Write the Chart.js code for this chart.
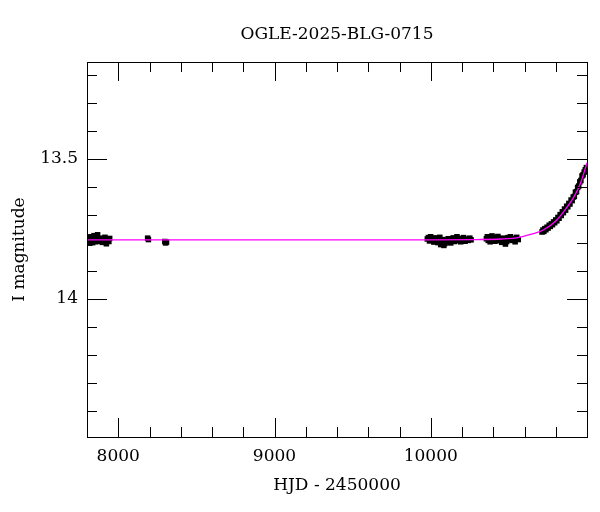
<!DOCTYPE html>
<html>
<head>
<meta charset="utf-8">
<script src="https://cdn.jsdelivr.net/npm/chart.js@4"></script>
<style>
html,body{margin:0;padding:0;background:#fff;}
#wrap{width:600px;height:512px;}
</style>
</head>
<body>
<div id="wrap"><canvas id="c" width="600" height="512"></canvas></div>
<script>
// ---- data ----
const titleText = "OGLE-2025-BLG-0715";
const xTitle = "HJD - 2450000";
const yTitle = "I magnitude";
const xLabelTicks = [8000, 9000, 10000];
const yLabelTicks = [13.5, 14];

const obsHJD = [
  7803,7806,7809,7812,7815,7818,7821,7825,7828,7832,7836,7840,7845,7850,7856,7862,7868,7875,7882,7890,7898,7906,7915,7924,7933,7940,7945,
  8188,8193,
  8298,8303,8309,
  9978,9985,9992,9999,10006,10013,10020,10027,10034,10040,10046,10052,10058,10064,10070,10077,10084,10091,10098,10105,10112,10120,10128,10136,10144,10152,10160,10168,10176,10184,10192,10200,10210,10220,10230,10240,10250,10258,
  10356,10362,10368,10374,10380,10386,10392,10398,10404,10410,10416,10422,10430,10438,10446,10454,10462,10470,10478,10486,10494,10502,10510,10520,10530,10540,10550,10560,
  10712,10718,10724,10730,10737,10744,10751,10758,10765,10772,10779,10786,10793,10800,10807,10814,10821,10828,10835,10842,10849,10856,10863,10870,10877,10884,10891,10898,10905,10912,10919,10926,10933,10940,10947,10954,10961,10968,10975,10982,10989,10996
];
const obsMag = [
  13.792,13.785,13.798,13.781,13.790,13.802,13.787,13.779,13.794,13.788,13.800,13.783,13.775,13.791,13.797,13.786,13.772,13.789,13.795,13.784,13.799,13.790,13.781,13.804,13.788,13.796,13.785,
  13.784,13.789,
  13.796,13.801,13.798,
  13.787,13.782,13.794,13.779,13.790,13.785,13.798,13.783,13.792,13.788,13.800,13.795,13.781,13.807,13.796,13.789,13.810,13.803,13.791,13.798,13.786,13.794,13.801,13.790,13.783,13.796,13.788,13.779,13.793,13.785,13.797,13.790,13.782,13.795,13.787,13.792,13.784,13.790,
  13.786,13.779,13.792,13.783,13.797,13.788,13.776,13.790,13.784,13.795,13.781,13.789,13.778,13.793,13.786,13.799,13.784,13.790,13.805,13.796,13.782,13.788,13.779,13.792,13.785,13.797,13.781,13.789,
  13.762,13.755,13.760,13.750,13.754,13.745,13.748,13.738,13.742,13.733,13.736,13.726,13.729,13.719,13.722,13.710,13.713,13.700,13.703,13.690,13.693,13.680,13.684,13.670,13.672,13.660,13.662,13.648,13.650,13.637,13.635,13.620,13.618,13.603,13.598,13.583,13.578,13.562,13.558,13.548,13.540,13.532
];
const modelHJD = [7800, 9000, 10000, 10300, 10450, 10550, 10650, 10720, 10800, 10870, 10920, 10960, 11000];
const modelMag = [13.790, 13.790, 13.790, 13.789, 13.787, 13.783, 13.769, 13.755, 13.723, 13.675, 13.633, 13.585, 13.515];

const FONT = "'DejaVu Serif', serif";

const obsPts = obsHJD.map((x, i) => ({x: x, y: obsMag[i]}));
const modelPts = modelHJD.map((x, i) => ({x: x, y: modelMag[i]}));

const frameTicks = {
  id: 'frameTicks',
  afterDraw(chart) {
    const ctx = chart.ctx;
    const a = chart.chartArea;
    const xs = chart.scales.x, ys = chart.scales.y;
    ctx.save();
    ctx.strokeStyle = '#000';
    ctx.lineWidth = 1;
    ctx.beginPath();
    xs.ticks.forEach(t => {
      const px = Math.round(xs.getPixelForValue(t.value)) + 0.5;
      const major = xLabelTicks.includes(Math.round(t.value));
      const len = major ? 19 : 10;
      ctx.moveTo(px, a.bottom); ctx.lineTo(px, a.bottom - len);
      ctx.moveTo(px, a.top); ctx.lineTo(px, a.top + len);
    });
    ys.ticks.forEach(t => {
      const py = Math.round(ys.getPixelForValue(t.value)) + 0.5;
      const major = yLabelTicks.some(v => Math.abs(v - t.value) < 1e-6);
      const len = major ? 20 : 10;
      ctx.moveTo(a.left, py); ctx.lineTo(a.left + len, py);
      ctx.moveTo(a.right, py); ctx.lineTo(a.right - len, py);
    });
    ctx.stroke();
    ctx.strokeRect(Math.round(a.left) + 0.5, Math.round(a.top) + 0.5,
                   Math.round(a.right - a.left), Math.round(a.bottom - a.top));
    ctx.restore();
  }
};

Chart.defaults.color = '#000';
Chart.defaults.font.family = FONT;

new Chart(document.getElementById('c'), {
  type: 'scatter',
  data: {
    datasets: [
      {
        label: 'model',
        type: 'line',
        data: modelPts,
        borderColor: '#ff00ff',
        borderWidth: 1.3,
        pointRadius: 0,
        fill: false,
        cubicInterpolationMode: 'monotone',
        order: 0
      },
      {
        label: 'OGLE',
        data: obsPts,
        pointStyle: 'rect',
        pointRadius: 3.9,
        backgroundColor: '#000',
        borderColor: '#000',
        borderWidth: 0,
        order: 1
      }
    ]
  },
  options: {
    responsive: false,
    animation: false,
    devicePixelRatio: 1,
    layout: {padding: {left: 0, right: 13, top: 0, bottom: 0}},
    plugins: {
      legend: {display: false},
      tooltip: {enabled: false},
      title: {display: false}
    },
    scales: {
      x: {
        type: 'linear',
        min: 7800, max: 11000,
        grid: {display: false, drawTicks: false},
        border: {display: false},
        ticks: {
          stepSize: 200, autoSkip: false, maxRotation: 0, includeBounds: false,
          padding: 9,
          font: {family: FONT, size: 17},
          callback: v => xLabelTicks.includes(Math.round(v)) ? String(Math.round(v)) : ''
        },
        title: {display: true, text: xTitle, font: {family: FONT, size: 17}, padding: {top: 0, bottom: 16}},
        afterFit: s => { s.height = 75; }
      },
      xTop: {
        type: 'linear',
        position: 'top',
        min: 7800, max: 11000,
        grid: {display: false, drawTicks: false},
        border: {display: false},
        ticks: {display: false},
        title: {display: true, text: titleText, font: {family: FONT, size: 17}, padding: {top: 24, bottom: 0}},
        afterFit: s => { s.height = 62; }
      },
      y: {
        type: 'linear',
        reverse: true,
        min: 13.155, max: 14.494,
        grid: {display: false, drawTicks: false},
        border: {display: false},
        ticks: {
          stepSize: 0.1, autoSkip: false, includeBounds: false,
          padding: 9,
          font: {family: FONT, size: 17},
          callback: v => {
            const hit = yLabelTicks.find(t => Math.abs(t - v) < 1e-6);
            return hit !== undefined ? String(hit) : '';
          }
        },
        title: {display: true, text: yTitle, font: {family: FONT, size: 17}, padding: {top: 9, bottom: 0}},
        afterFit: s => { s.width = 87; }
      }
    }
  },
  plugins: [frameTicks]
});
</script>
</body>
</html>
